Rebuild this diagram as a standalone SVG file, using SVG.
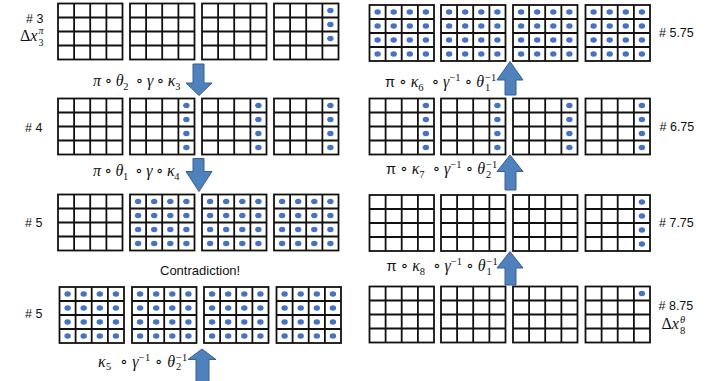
<svg xmlns="http://www.w3.org/2000/svg" xmlns:xlink="http://www.w3.org/1999/xlink" width="712" height="381" viewBox="0 0 712 381">
<style>
.gr rect{fill:#fff;stroke:#111;stroke-width:1.8}
.gr path{fill:none;stroke:#111;stroke-width:1.8}
.dt{fill:#4472C4}
.arr{fill:#4F81BD;stroke:#3A5F8F;stroke-width:1}
.lb{font-family:"Liberation Sans",Arial,sans-serif;font-size:12.5px;fill:#111}
.m{font-family:"Liberation Serif","DejaVu Serif",serif;font-style:italic;font-size:16px;fill:#111}
.s{font-family:"Liberation Serif","DejaVu Serif",serif;font-style:normal;font-size:10.5px;fill:#111}
.si{font-style:italic}
.up{font-family:"Liberation Sans",Arial,sans-serif;font-style:normal;font-size:14.5px}
</style>
<defs>
<g id="grid" class="gr"><rect x="0" y="0" width="64.5" height="56"/><path d="M16.1,0V56M32.2,0V56M48.4,0V56M0,14H64.5M0,28H64.5M0,42H64.5"/></g>
<ellipse id="dot" class="dt" cx="0" cy="0" rx="3.2" ry="2.8"/>
<g id="col"><use xlink:href="#dot" x="56.4" y="7"/><use xlink:href="#dot" x="56.4" y="21"/><use xlink:href="#dot" x="56.4" y="35"/><use xlink:href="#dot" x="56.4" y="49"/></g>
<g id="full"><use xlink:href="#col"/><use xlink:href="#col" x="-16.1"/><use xlink:href="#col" x="-32.2"/><use xlink:href="#col" x="-48.3"/></g>
</defs>

<!-- Row 1 left (#3) -->
<g id="n3a" transform="translate(58,3.5)"><use xlink:href="#grid"/></g>
<g id="n3b" transform="translate(130,3.5)"><use xlink:href="#grid"/></g>
<g id="n3c" transform="translate(202,3.5)"><use xlink:href="#grid"/></g>
<g id="n3d" transform="translate(274,3.5)"><use xlink:href="#grid"/><use xlink:href="#dot" x="56.4" y="7"/><use xlink:href="#dot" x="56.4" y="21"/><use xlink:href="#dot" x="56.4" y="35"/></g>

<!-- Row 2 left (#4) -->
<g id="n4a" transform="translate(58,98.5)"><use xlink:href="#grid"/></g>
<g id="n4b" transform="translate(130,98.5)"><use xlink:href="#grid"/><use xlink:href="#col"/></g>
<g id="n4c" transform="translate(202,98.5)"><use xlink:href="#grid"/><use xlink:href="#col"/></g>
<g id="n4d" transform="translate(274,98.5)"><use xlink:href="#grid"/><use xlink:href="#col"/></g>

<!-- Row 3 left (#5) -->
<g id="n5a" transform="translate(58,194.5)"><use xlink:href="#grid"/></g>
<g id="n5b" transform="translate(130,194.5)"><use xlink:href="#grid"/><use xlink:href="#full"/></g>
<g id="n5c" transform="translate(202,194.5)"><use xlink:href="#grid"/><use xlink:href="#full"/></g>
<g id="n5d" transform="translate(274,194.5)"><use xlink:href="#grid"/><use xlink:href="#full"/></g>

<!-- Row 4 left (#5) -->
<g id="n5e" transform="translate(59.5,287)"><use xlink:href="#grid"/><use xlink:href="#full"/></g>
<g id="n5f" transform="translate(132,287)"><use xlink:href="#grid"/><use xlink:href="#full"/></g>
<g id="n5g" transform="translate(204,287)"><use xlink:href="#grid"/><use xlink:href="#full"/></g>
<g id="n5h" transform="translate(276.5,287)"><use xlink:href="#grid"/><use xlink:href="#full"/></g>

<!-- Row 1 right (#5.75) -->
<g id="n575a" transform="translate(369.5,5)"><use xlink:href="#grid"/><use xlink:href="#full"/></g>
<g id="n575b" transform="translate(441,5)"><use xlink:href="#grid"/><use xlink:href="#full"/></g>
<g id="n575c" transform="translate(513,5)"><use xlink:href="#grid"/><use xlink:href="#full"/></g>
<g id="n575d" transform="translate(585.5,5)"><use xlink:href="#grid"/><use xlink:href="#full"/></g>

<!-- Row 2 right (#6.75) -->
<g id="n675a" transform="translate(369.5,98.5)"><use xlink:href="#grid"/><use xlink:href="#col"/></g>
<g id="n675b" transform="translate(441,98.5)"><use xlink:href="#grid"/><use xlink:href="#col"/></g>
<g id="n675c" transform="translate(513,98.5)"><use xlink:href="#grid"/><use xlink:href="#col"/></g>
<g id="n675d" transform="translate(585.5,98.5)"><use xlink:href="#grid"/><use xlink:href="#col"/></g>

<!-- Row 3 right (#7.75) -->
<g id="n775a" transform="translate(369.5,195)"><use xlink:href="#grid"/></g>
<g id="n775b" transform="translate(441,195)"><use xlink:href="#grid"/></g>
<g id="n775c" transform="translate(513,195)"><use xlink:href="#grid"/></g>
<g id="n775d" transform="translate(585.5,195)"><use xlink:href="#grid"/><use xlink:href="#col"/></g>

<!-- Row 4 right (#8.75) -->
<g id="n875a" transform="translate(369.5,286.5)"><use xlink:href="#grid"/></g>
<g id="n875b" transform="translate(441,286.5)"><use xlink:href="#grid"/></g>
<g id="n875c" transform="translate(513,286.5)"><use xlink:href="#grid"/></g>
<g id="n875d" transform="translate(585.5,286.5)"><use xlink:href="#grid"/><use xlink:href="#dot" x="56.4" y="7"/></g>

<!-- connectors -->
<g id="connectors">
<path class="arr" d="M193,64H204V83H212L199,95.5L186,83H193Z"/>
<path class="arr" d="M193,158.5H204V171.5H212L199,191.5L186,171.5H193Z"/>
<path class="arr" d="M202,349L216,359.5H209V383H196V359.5H188Z"/>
<path class="arr" d="M510,61.5L523,80H516V95H505V80H497Z"/>
<path class="arr" d="M510,155L523,171.5H516V190H505V171.5H497Z"/>
<path class="arr" d="M510,251.5L523,268H516V285H505V268H497Z"/>
</g>

<!-- row labels -->
<g id="labels">
<text class="lb" x="26" y="23">#&#160;3</text>
<text class="m" x="20" y="40.5"><tspan style="font-style:normal">Δ</tspan>x</text>
<text class="s" x="38.5" y="34" style="font-size:10px"><tspan class="si">π</tspan><tspan x="38.5" y="45.5">3</tspan></text>
<text class="lb" x="25" y="132">#&#160;4</text>
<text class="lb" x="25" y="227">#&#160;5</text>
<text class="lb" x="25" y="318">#&#160;5</text>
<text class="lb" x="659" y="37">#&#160;5.75</text>
<text class="lb" x="659.5" y="131">#&#160;6.75</text>
<text class="lb" x="659" y="227">#&#160;7.75</text>
<text class="lb" x="658.5" y="309.5">#&#160;8.75</text>
<text class="m" x="661.5" y="329"><tspan style="font-style:normal">Δ</tspan>x</text>
<text class="s" x="680" y="323"><tspan class="si">θ</tspan><tspan x="680" y="333.5">8</tspan></text>
<text class="lb" x="160" y="275" style="font-size:13px">Contradiction!</text>

<!-- operation labels -->
<text class="m" x="93" y="86" textLength="87.5" lengthAdjust="spacing" xml:space="preserve">π ∘ θ<tspan class="s" dy="3.5">2</tspan><tspan dy="-3.5">  ∘ γ ∘ κ</tspan><tspan class="s" dy="3.5">3</tspan></text>
<text class="m" x="93" y="176" textLength="86.5" lengthAdjust="spacing" xml:space="preserve">π ∘ θ<tspan class="s" dy="3.5">1</tspan><tspan dy="-3.5">  ∘ γ ∘ κ</tspan><tspan class="s" dy="3.5">4</tspan></text>

<text class="m" x="385" y="87" textLength="99" lengthAdjust="spacing" xml:space="preserve"><tspan class="up">π</tspan> ∘ κ<tspan class="s" dy="3.5">6</tspan><tspan dy="-3.5">  ∘ γ</tspan><tspan class="s" dy="-6">−1</tspan><tspan dy="6"> ∘ θ</tspan></text>
<text class="s" x="485" y="81">−1<tspan x="485" y="90.5">1</tspan></text>

<text class="m" x="386" y="174" textLength="99" lengthAdjust="spacing" xml:space="preserve"><tspan class="up">π</tspan> ∘ κ<tspan class="s" dy="3.5">7</tspan><tspan dy="-3.5">  ∘ γ</tspan><tspan class="s" dy="-6">−1</tspan><tspan dy="6"> ∘ θ</tspan></text>
<text class="s" x="486" y="168">−1<tspan x="486" y="177.5">2</tspan></text>

<text class="m" x="386.5" y="271" textLength="99" lengthAdjust="spacing" xml:space="preserve"><tspan class="up">π</tspan> ∘ κ<tspan class="s" dy="3.5">8</tspan><tspan dy="-3.5">  ∘ γ</tspan><tspan class="s" dy="-6">−1</tspan><tspan dy="6"> ∘ θ</tspan></text>
<text class="s" x="486.5" y="265">−1<tspan x="486.5" y="274.5">1</tspan></text>

<text class="m" x="98" y="366.5" textLength="77" lengthAdjust="spacing" xml:space="preserve">κ<tspan class="s" dy="3.5">5</tspan><tspan dy="-3.5">  ∘ γ</tspan><tspan class="s" dy="-6">−1</tspan><tspan dy="6"> ∘ θ</tspan></text>
<text class="s" x="176" y="360.5">−1<tspan x="176" y="370">2</tspan></text>
</g>
</svg>
